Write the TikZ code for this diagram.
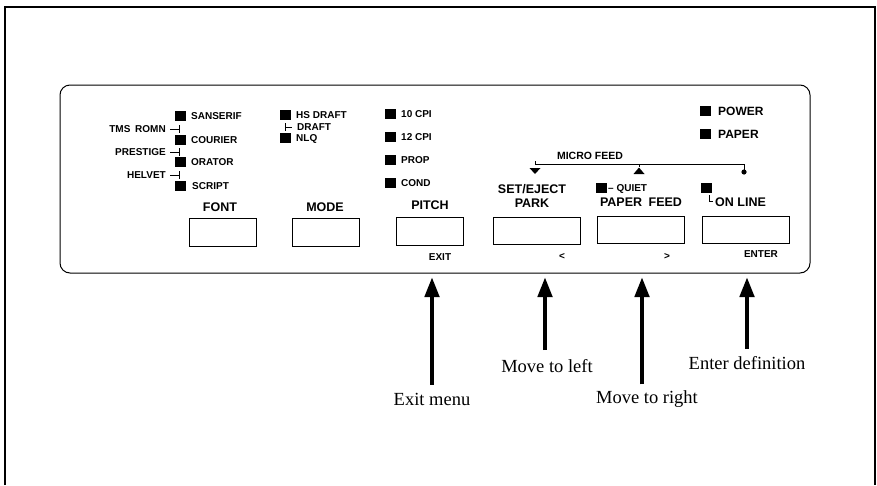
\documentclass[tikz,border=0pt]{standalone}
\usepackage{fontspec}
\setmainfont{Liberation Serif}
\newfontfamily\pf{Liberation Sans}
\usetikzlibrary{arrows.meta}
\begin{document}
\begin{tikzpicture}[x=1pt,y=-1pt,
 btn/.style={draw, line width=0.9pt, minimum width=87pt, minimum height=27pt, inner sep=0pt},
 sbtn/.style={btn, minimum width=67pt, minimum height=28pt},
 led/.style={fill=black, minimum width=11pt, minimum height=10pt, inner sep=0pt},
 sl/.style={font=\pf\bfseries\fontsize{10}{11}\selectfont, inner sep=0pt, anchor=west},
 pl/.style={font=\pf\bfseries\fontsize{12}{13}\selectfont, inner sep=0pt, anchor=west},
 bl/.style={font=\pf\bfseries\fontsize{12.5}{13}\selectfont, inner sep=0pt},
 capt/.style={font=\fontsize{18.5}{20}\selectfont, inner sep=0pt},
 bigarrow/.style={line width=4.5pt, -{Triangle[length=20pt,width=14pt]}},
 thin/.style={line width=0.8pt},
]
\useasboundingbox (0,0) rectangle (877,485);
% outer frame
\draw[line width=1.5pt] (5,485) -- (5,7) -- (875,7) -- (875,485);
% panel
\draw[line width=1pt, rounded corners=10pt] (60,85) rectangle (810,273);

% buttons
\node[sbtn] (bfont)  at (222.5,232.5) {};
\node[sbtn] (bmode)  at (325.5,232) {};
\node[sbtn] (bpitch) at (429.5,231) {};
\node[btn]  (bset)   at (537,230.5) {};
\node[btn]  (bpaper) at (640.5,229.5) {};
\node[btn]  (bonline) at (745.5,229.5) {};

% button labels
\node[bl] (lfont)  at (220,207) {FONT};
\node[bl] (lmode)  at (325,207) {MODE};
\node[bl] (lpitch) at (430,205) {PITCH};
\node[bl] (lset)   at (532,189) {SET/EJECT};
\node[bl] (lpark)  at (532,203) {PARK};
\node[bl] (lpaper) at (641,202) {PAPER\hspace{3pt} FEED};
\node[bl, anchor=west] (lonline) at (715,202) {ON LINE};
\draw[thin] (709,195) -- (709,201) -- (713,201);

% font column
\node[led] (ssans) at (180,116) {};
\node[led] (scour) at (180,140) {};
\node[led] (sorat) at (180,162) {};
\node[led] (sscri) at (180,186) {};
\node[sl] (tsans) at (191,116) {SANSERIF};
\node[sl] (tcour) at (191,140) {COURIER};
\node[sl] (torat) at (191,162) {ORATOR};
\node[sl] (tscri) at (192,186) {SCRIPT};
\node[sl, anchor=east] (ttms) at (166,129) {TMS\hspace{2pt} ROMN};
\node[sl, anchor=east] (tpre) at (166,152) {PRESTIGE};
\node[sl, anchor=east] (thel) at (166,175) {HELVET};
\draw[thin] (170,129) -- (179,129) (179,125) -- (179,133);
\draw[thin] (170,152) -- (179,152) (179,148) -- (179,156);
\draw[thin] (170,175) -- (179,175) (179,171) -- (179,179);

% mode column
\node[led] (mhs)  at (285,115) {};
\node[led] (mnlq) at (285,138) {};
\node[sl] (ths)  at (296,115) {HS DRAFT};
\node[sl] (tdr)  at (297,127) {DRAFT};
\node[sl] (tnlq) at (296,139) {NLQ};
\draw[thin] (285,123) -- (285,131) (285,127) -- (292,127);

% pitch column
\node[led] (p10)  at (390,114) {};
\node[led] (p12)  at (390,137) {};
\node[led] (ppro) at (390,160) {};
\node[led] (pcon) at (390,183) {};
\node[sl] (t10)  at (401,114) {10 CPI};
\node[sl] (t12)  at (401,137) {12 CPI};
\node[sl] (tpro) at (401,160) {PROP};
\node[sl] (tcon) at (401,183) {COND};

% power / paper
\node[led] (lpow) at (705,111) {};
\node[led] (lpap) at (705,134) {};
\node[pl] (tpow) at (718,111) {POWER};
\node[pl] (tpap) at (718,134) {PAPER};

% quiet / online leds
\node[led] (lqui) at (601,188) {};
\node[sl] (tqui) at (608,188.5) {– QUIET};
\node[led] (lonl) at (706,188) {};

% micro feed
\node[sl, anchor=center, font=\pf\bfseries\fontsize{10.5}{11}\selectfont] (tmicro) at (590,156) {MICRO FEED};
\coordinate (mfL) at (535,164);
\coordinate (mfR) at (744,164);
\coordinate (mfM) at (639,164);
\coordinate (mfdot) at (744,172);
\draw[thin] ([yshift=3pt]mfL) -- (mfL) -- (mfR) -- (mfdot);
\fill (mfdot) circle (2.6pt);
\draw[thin] (mfM) -- ++(0,3);
\fill (529.5,168) -- (540.5,168) -- (535,174) -- cycle;
\fill (633.5,174) -- (644.5,174) -- (639,167.5) -- cycle;

% bottom labels
\node[sl, anchor=center] (texit) at (440,257) {EXIT};
\node[sl, anchor=center] (tlt)   at (562,256) {<};
\node[sl, anchor=center] (tgt)   at (667,256) {>};
\node[sl, anchor=center] (tent)  at (761,254) {ENTER};

% captions and arrows
\node[capt] (cexit)  at (432,399) {Exit menu};
\node[capt] (cleft)  at (547,366) {Move to left};
\node[capt] (cright) at (647,399) {Move to right};
\node[capt] (center) at (747,363) {Enter definition};
\coordinate (aexit)  at (432,277);
\coordinate (aleft)  at (545,277);
\coordinate (aright) at (642,277);
\coordinate (aenter) at (747,277);
\draw[bigarrow, shorten <=8pt] (cexit.north -| aexit) -- (aexit);
\draw[bigarrow, shorten <=9pt] (cleft.north -| aleft) -- (aleft);
\draw[bigarrow, shorten <=6pt] (cright.north -| aright) -- (aright);
\draw[bigarrow, shorten <=7pt] (center.north -| aenter) -- (aenter);
\end{tikzpicture}
\end{document}
